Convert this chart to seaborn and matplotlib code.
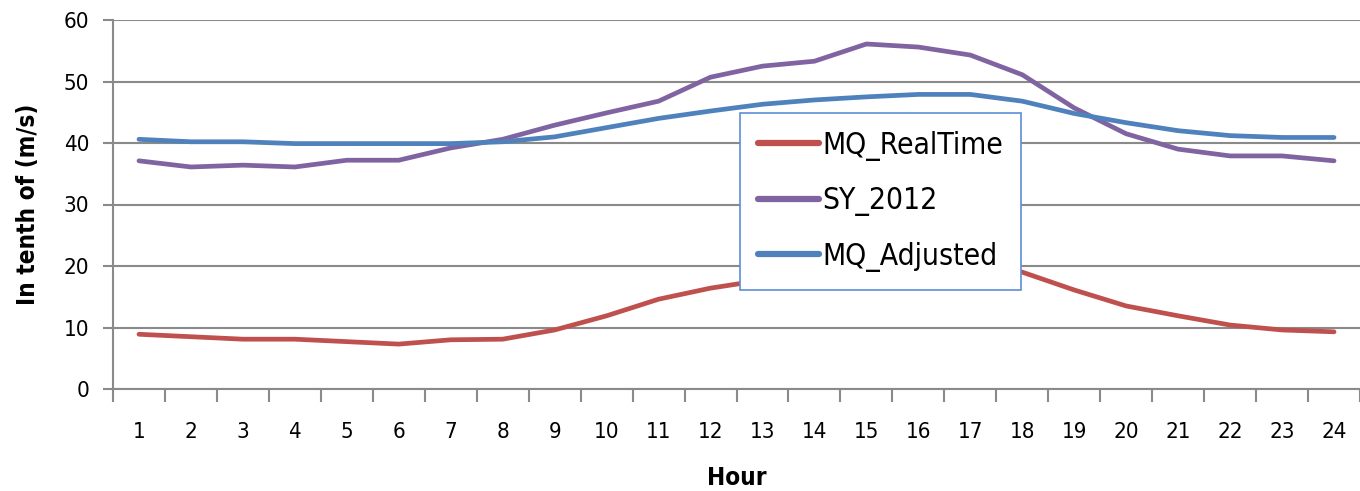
import matplotlib
matplotlib.use("Agg")
import matplotlib.pyplot as plt
import seaborn as sns
import pandas as pd
import numpy as np
from matplotlib.ticker import FixedLocator
from matplotlib import font_manager

hours = list(range(1, 25))
mq_realtime = [8.9, 8.5, 8.1, 8.1, 7.7, 7.3, 8.0, 8.1, 9.6, 11.9, 14.6, 16.4,
               17.7, 19.0, 19.8, 20.2, 20.0, 19.0, 16.1, 13.5, 11.9, 10.4, 9.6, 9.3]
sy_2012 = [37.1, 36.1, 36.4, 36.1, 37.2, 37.2, 39.2, 40.6, 42.9, 44.9, 46.8, 50.7,
           52.5, 53.3, 56.1, 55.6, 54.3, 51.1, 45.7, 41.5, 39.0, 37.9, 37.9, 37.1]
mq_adjusted = [40.6, 40.2, 40.2, 39.9, 39.9, 39.9, 39.9, 40.2, 41.0, 42.5, 44.0, 45.2,
               46.3, 47.0, 47.5, 47.9, 47.9, 46.8, 44.8, 43.3, 42.0, 41.2, 40.9, 40.9]
series_names = ["MQ_RealTime", "SY_2012", "MQ_Adjusted"]
colors = ["#C0504D", "#8064A2", "#4F81BD"]
y_ticks = [0, 10, 20, 30, 40, 50, 60]

sns.set_theme(style="white")
names = {f.name for f in font_manager.fontManager.ttflist}
fam = ['Liberation Sans Narrow'] if 'Liberation Sans Narrow' in names else []
plt.rcParams['font.family'] = fam + ['DejaVu Sans']
plt.rcParams['font.stretch'] = 'condensed'
plt.rcParams['text.color'] = 'black'
plt.rcParams['axes.labelcolor'] = 'black'
plt.rcParams['xtick.color'] = 'black'
plt.rcParams['ytick.color'] = 'black'

df = pd.DataFrame({
    "Hour": hours * 3,
    "value": mq_realtime + sy_2012 + mq_adjusted,
    "series": [series_names[0]] * 24 + [series_names[1]] * 24 + [series_names[2]] * 24,
})

fig = plt.figure(figsize=(13.6, 4.91), dpi=100)
ax = fig.add_axes([113 / 1360, 102 / 491, 1247 / 1360, 369 / 491])

sns.lineplot(data=df, x="Hour", y="value", hue="series", hue_order=series_names,
             palette=colors, linewidth=3.4, ax=ax, legend=True)

ax.set_xlim(0.5, 24.5)
ax.set_ylim(0, 60)
ax.set_yticks(y_ticks)
ax.set_xticks(hours)
ax.set_xticklabels([str(h) for h in hours])
ax.xaxis.set_minor_locator(FixedLocator(np.arange(0.5, 25, 1.0)))
ax.tick_params(axis="x", which="major", length=0, pad=24, labelsize=16, labelcolor="black")
ax.tick_params(axis="x", which="minor", length=9, width=1.5, direction="out", color="#8a8a8a", bottom=True)
ax.tick_params(axis="y", which="major", length=7, width=1.5, direction="out", color="#8a8a8a",
               left=True, labelsize=16, pad=10, labelcolor="black")

ax.grid(axis="y", color="#8a8a8a", linewidth=1.5)
ax.set_axisbelow(True)
for side in ["top", "right"]:
    ax.spines[side].set_visible(False)
for side in ["left", "bottom"]:
    ax.spines[side].set_color("#8a8a8a")
    ax.spines[side].set_linewidth(1.5)

ax.set_xlabel("Hour", fontsize=17.5, fontweight="bold", labelpad=17, color="black")
ax.set_ylabel("In tenth of (m/s)", fontsize=17.5, fontweight="bold", labelpad=17, color="black")

leg = ax.legend(loc="upper left", bbox_to_anchor=((740 - 113) / 1247, (389 - 113) / 369),
                frameon=True, fancybox=False, fontsize=21.5, handlelength=2.05,
                labelspacing=0.85, borderpad=0.6, handletextpad=0.12, borderaxespad=0)
leg.get_frame().set_edgecolor("#5b8fd6")
leg.get_frame().set_linewidth(1.2)
leg.get_frame().set_facecolor("white")
leg.get_frame().set_alpha(1.0)
for line in leg.get_lines():
    line.set_linewidth(4.5)
for t in leg.get_texts():
    t.set_color("black")

fig.savefig("out.png", dpi=100)
